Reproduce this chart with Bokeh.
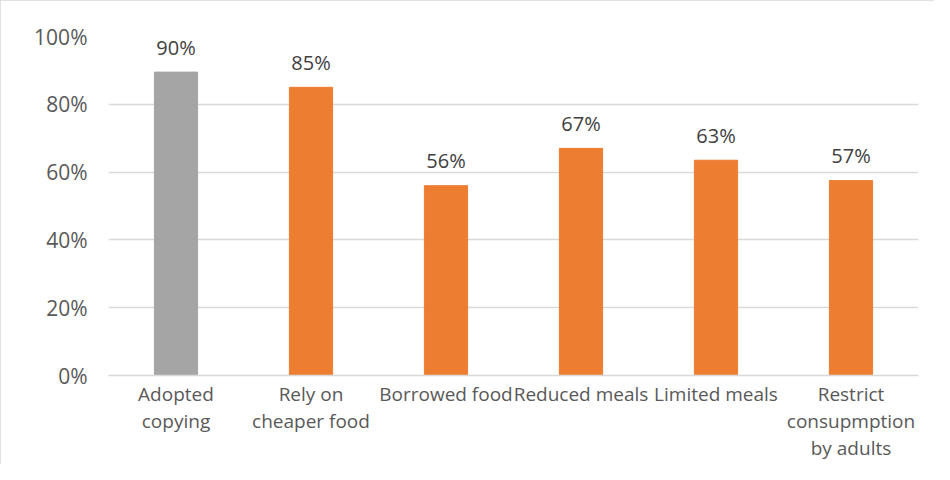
from bokeh.plotting import figure
from bokeh.models import ColumnDataSource, NumeralTickFormatter, FixedTicker, Range1d
from bokeh.core.properties import value
from bokeh.embed import file_html
from bokeh.resources import INLINE

categories = ["Adopted\ncopying", "Rely on\ncheaper food", "Borrowed food",
              "Reduced meals", "Limited meals", "Restrict\nconsupmption\nby adults"]
values = [0.895, 0.85, 0.56, 0.67, 0.635, 0.575]
labels = ["90%", "85%", "56%", "67%", "63%", "57%"]
colors = ["#A5A5A5", "#ED7D31", "#ED7D31", "#ED7D31", "#ED7D31", "#ED7D31"]
y_ticks = [0, 0.2, 0.4, 0.6, 0.8, 1.0]

FONT = "Open Sans"
TXT = "#595959"

src = ColumnDataSource(dict(cat=categories, val=values, lab=labels, col=colors))

p = figure(x_range=categories, y_range=Range1d(0, 1.0), width=934, height=464,
           output_backend="svg", toolbar_location=None,
           min_border_left=108, min_border_right=16, min_border_top=36, min_border_bottom=88)
p.styles = {"outline": "1px solid #D9D9D9", "outline-offset": "-1px"}
p.outline_line_color = None
p.background_fill_color = "white"
p.border_fill_color = "white"

p.vbar(x="cat", top="val", width=0.32, color="col", source=src)
p.text(x="cat", y="val", text="lab", source=src, text_align="center", text_baseline="alphabetic",
       y_offset=-25, text_font=value(FONT), text_font_size="20px", text_color="#404040")

p.yaxis.ticker = FixedTicker(ticks=y_ticks)
p.yaxis.formatter = NumeralTickFormatter(format="0%")
p.yaxis.axis_line_color = None
p.yaxis.major_tick_line_color = None
p.yaxis.major_tick_out = 0
p.yaxis.minor_tick_line_color = None
p.yaxis.major_label_standoff = 21
p.yaxis.major_label_text_font = FONT
p.yaxis.major_label_text_font_size = "21px"
p.yaxis.major_label_text_color = TXT

p.xaxis.axis_line_color = "#D9D9D9"
p.xaxis.axis_line_width = 1.5
p.xaxis.major_tick_line_color = None
p.xaxis.major_tick_out = 0
p.xaxis.minor_tick_line_color = None
p.xaxis.major_label_standoff = 5
p.xaxis.major_label_text_font = FONT
p.xaxis.major_label_text_font_size = "19px"
p.xaxis.major_label_text_color = TXT
p.xaxis.major_label_text_line_height = 1.05

p.xgrid.grid_line_color = None
p.ygrid.grid_line_color = "#D9D9D9"
p.ygrid.grid_line_width = 1.5

open("out.html", "w").write(file_html(p, INLINE))
